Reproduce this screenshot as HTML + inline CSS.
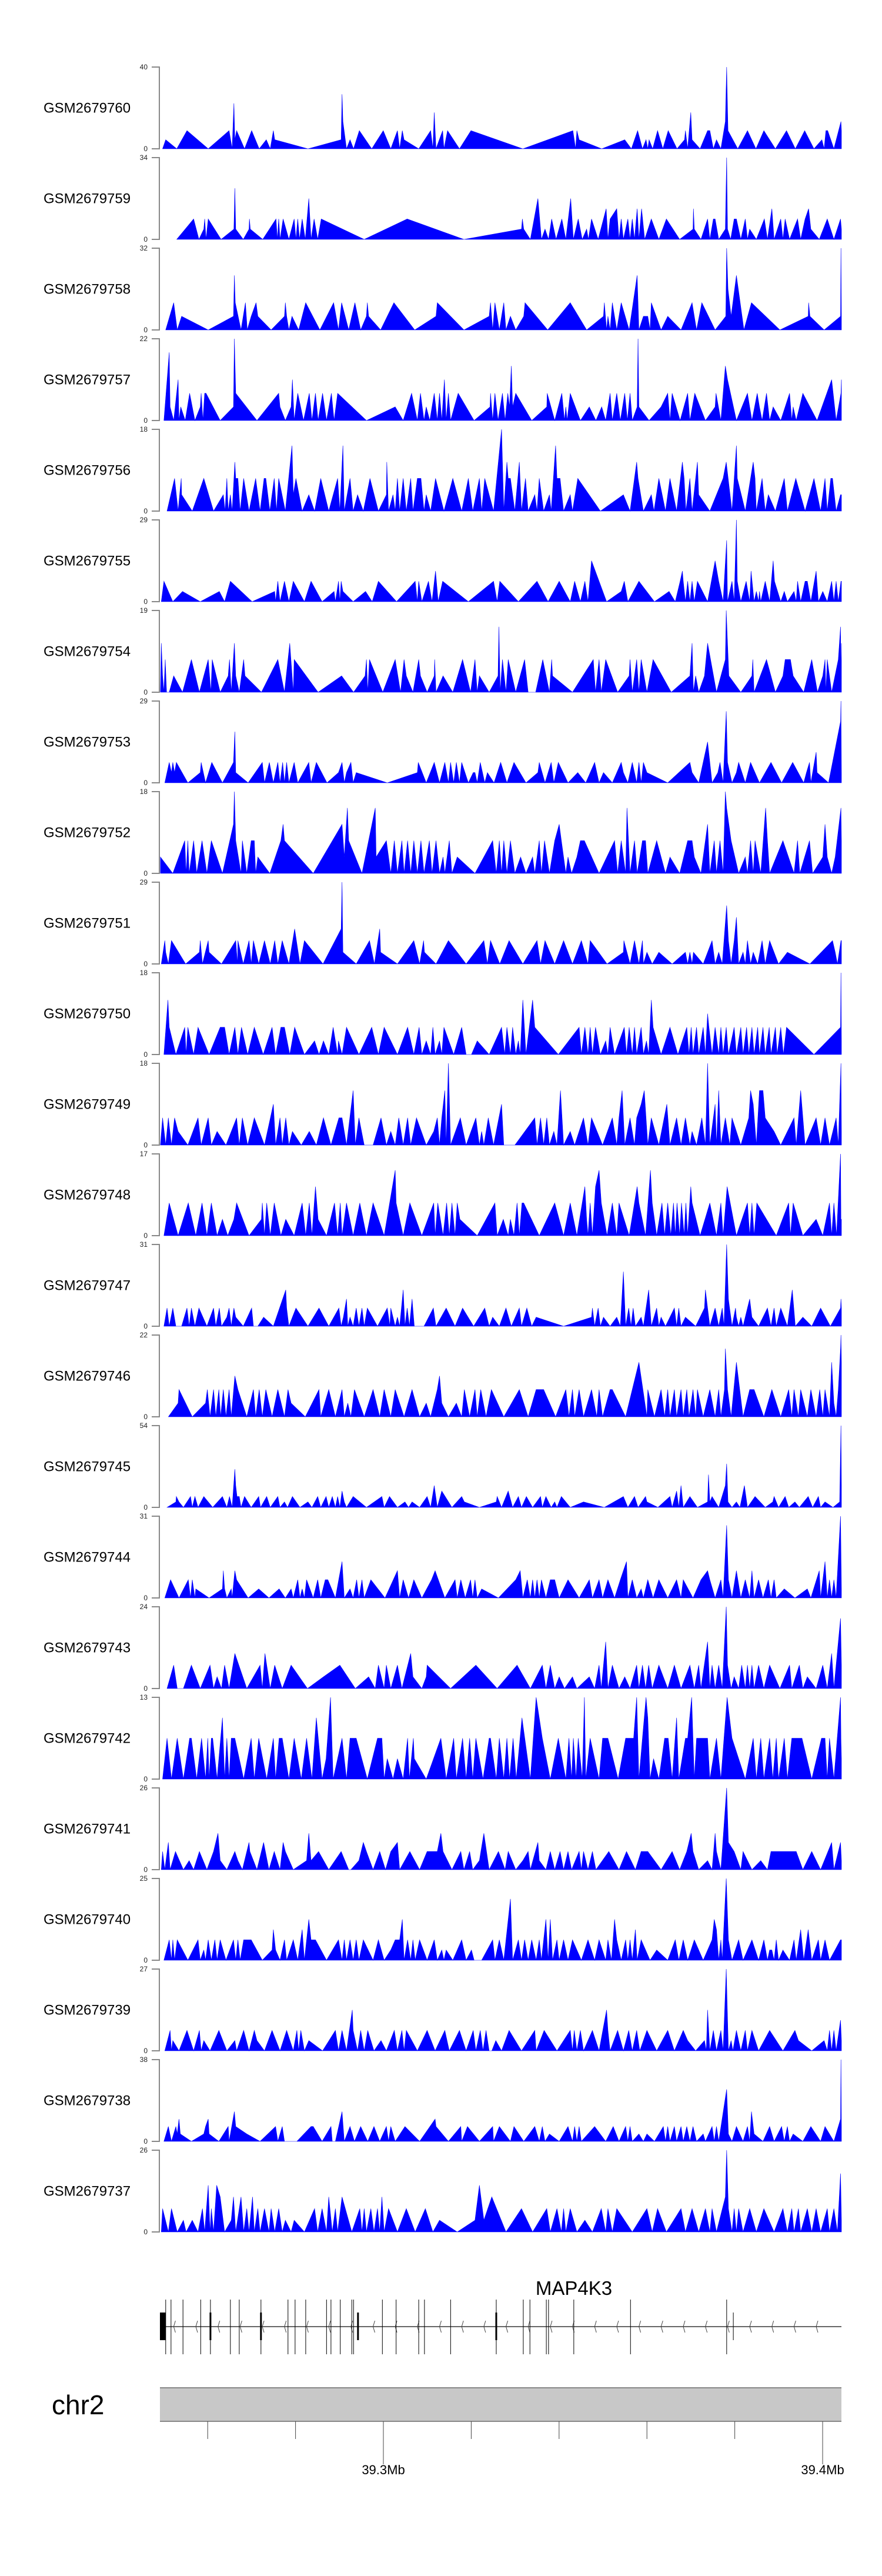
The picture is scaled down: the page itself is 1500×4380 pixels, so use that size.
<!DOCTYPE html>
<html><head><meta charset="utf-8"><title>Coverage tracks - MAP4K3</title>
<style>html,body{margin:0;padding:0;background:#fff}svg{display:block}text{font-family:"Liberation Sans",Arial,sans-serif}</style>
</head><body>
<svg id="chart" xmlns="http://www.w3.org/2000/svg" width="1500" height="4380" viewBox="0 0 1500 4380">
<rect x="0" y="0" width="1500" height="4380" fill="#fff"/>
<g id="tracks"></g>
<g id="gene"></g>
<g id="ideo"></g>
</svg>
<script>
const sampleNames=["GSM2679760","GSM2679759","GSM2679758","GSM2679757","GSM2679756","GSM2679755","GSM2679754","GSM2679753","GSM2679752","GSM2679751","GSM2679750","GSM2679749","GSM2679748","GSM2679747","GSM2679746","GSM2679745","GSM2679744","GSM2679743","GSM2679742","GSM2679741","GSM2679740","GSM2679739","GSM2679738","GSM2679737"];
const yMaxLabels=[40,34,32,22,18,29,19,29,18,29,18,18,17,31,22,54,31,24,13,26,25,27,38,26];
const normFactor=[4.444,4.25,5.333,3.667,3.6,3.625,3.8,3.625,3.6,4.143,3,3,3.4,3.444,3.667,3.6,3.444,3.429,3.25,2.889,3.125,3.375,3.455,3.714];
const regionKb=[0.9,154.7];
const regionMb=[39.24913,39.40428];
const axisTicksMb=[39.26,39.28,39.30,39.32,39.34,39.36,39.38,39.40];
const axisLabelsMb=["39.3Mb","39.4Mb"];
const geneName="MAP4K3";
const exons=[[0.9,"B"],[2.2,"L"],[3.4,"L"],[6.1,"L"],[10.1,"L"],[12.3,"T"],[16.8,"L"],[18.8,"L"],[23.7,"T"],[29.8,"L"],[31.4,"L"],[33.8,"L"],[38.5,"L"],[39.5,"L"],[41.6,"L"],[44.2,"L"],[44.6,"L"],[45.4,"B"],[51.1,"L"],[54.2,"L"],[59.3,"L"],[60.6,"L"],[66.5,"L"],[76.8,"T"],[82.9,"L"],[84.4,"L"],[88.1,"L"],[88.6,"L"],[94.3,"L"],[107.1,"L"],[128.8,"L"],[130.3,"S"]];

const cov760=[[1.5,0],[2.2,1],[4.7,0],[7.0,2],[11.8,0],[16.5,2],[17.2,0],[17.6,5],[17.8,1],[18.2,2],[20.0,0],[21.6,2],[23.3,0],[24.9,1],[25.8,0],[26.5,2],[26.8,1],[34.3,0],[41.8,1],[42.0,6],[42.2,3],[43.0,0],[43.8,1],[44.6,0],[45.9,2],[48.7,0],[51.3,2],[53.0,0],[54.5,2],[55.0,0],[55.6,2],[56.0,1],[59.3,0],[62.0,2],[62.5,0],[62.8,4],[63.2,0],[64.7,2],[65.0,0],[65.8,2],[68.5,0],[71.1,2],[82.8,0],[94.1,2],[94.7,0],[95.0,2],[95.5,1],[100.6,0],[105.8,1],[107.3,0],[108.7,2],[109.8,0],[110.6,1],[111.0,0],[111.3,1],[112.1,0],[113.2,2],[114.4,0],[115.6,2],[117.6,0],[119.3,1],[119.5,2],[120.0,0],[120.7,4],[121.0,1],[122.8,0],[124.5,2],[125.0,2],[125.8,0],[126.5,1],[127.5,0],[128.5,3],[128.8,9],[129.1,2],[131.3,0],[133.5,2],[135.4,0],[137.2,2],[139.8,0],[142.3,2],[144.3,0],[146.4,2],[148.5,0],[150.3,1],[150.8,0],[151.2,2],[151.6,2],[153.0,0],[154.6,3],[154.7,2]];
const cov759=[[4.7,0],[8.5,2],[9.7,0],[10.8,1],[11.0,2],[11.3,0],[11.8,2],[14.7,0],[17.6,1],[17.8,5],[18.0,1],[19.7,0],[21.0,1],[21.1,2],[21.3,1],[24.1,0],[27.1,2],[27.4,0],[27.7,2],[28.0,0],[28.7,2],[30.0,0],[31.2,2],[31.6,0],[32.0,2],[32.4,0],[33.0,2],[33.7,0],[34.5,4],[35.0,0],[35.7,2],[36.5,0],[37.3,2],[47.0,0],[56.7,2],[69.5,0],[82.5,1],[82.7,2],[83.0,1],[84.5,0],[86.2,4],[86.6,2],[87.0,0],[87.8,1],[88.6,0],[89.3,2],[90.3,0],[91.6,2],[92.5,0],[93.6,4],[94.2,0],[95.3,2],[96.2,0],[97.2,1],[97.6,0],[98.3,2],[99.8,0],[101.6,3],[102.0,0],[102.5,2],[104.0,3],[104.5,0],[105.0,2],[105.5,0],[106.5,2],[107.0,0],[107.5,2],[108.0,0],[108.6,3],[109.0,0],[109.6,3],[110.3,0],[111.8,2],[113.5,0],[115.2,2],[118.2,0],[121.2,1],[121.3,3],[121.5,1],[123.0,0],[124.5,2],[125.0,0],[125.8,2],[126.2,2],[127.0,0],[128.5,1],[128.8,8],[129.0,1],[129.7,0],[130.5,2],[131.0,2],[132.0,0],[133.0,2],[133.5,0],[134.0,1],[135.5,0],[137.3,2],[138.0,0],[139.0,3],[139.5,0],[141.0,2],[141.5,0],[142.0,2],[143.0,0],[144.8,2],[145.5,0],[146.5,2],[147.3,3],[147.8,1],[149.7,0],[151.5,2],[153.0,0],[154.5,2],[154.7,1]];
const cov758=[[2.2,0],[4.0,2],[4.8,0],[5.8,1],[11.8,0],[17.5,1],[17.7,4],[17.9,2],[19.2,0],[20.2,2],[20.6,0],[21.5,1],[22.6,2],[23.0,1],[26.0,0],[29.0,1],[29.2,2],[29.5,1],[30.0,0],[30.7,1],[32.2,0],[33.8,2],[37.0,0],[40.1,2],[41.2,0],[41.9,2],[43.5,0],[44.9,2],[46.2,0],[47.5,1],[47.7,2],[48.0,1],[50.7,0],[53.7,2],[58.4,0],[63.2,1],[63.5,2],[69.5,0],[75.2,1],[75.5,2],[76.0,0],[76.5,2],[77.5,0],[78.5,2],[79.0,0],[80.0,1],[81.2,0],[83.0,1],[83.3,2],[88.4,0],[93.5,2],[97.2,0],[101.0,1],[101.2,2],[101.7,0],[102.0,1],[102.5,0],[103.0,2],[104.0,0],[105.0,2],[106.8,0],[108.6,4],[109.0,0],[110.0,1],[111.0,1],[111.5,0],[111.8,2],[114.0,0],[115.5,1],[118.5,0],[121.0,2],[122.0,0],[123.2,2],[126.2,0],[128.6,1],[128.8,6],[129.1,3],[129.8,1],[131.0,4],[132.7,0],[134.4,2],[140.8,0],[147.2,1],[147.3,2],[147.6,1],[150.8,0],[154.5,1],[154.6,6],[154.7,1]];
const cov757=[[1.8,0],[3.0,5],[3.2,1],[4.0,0],[5.0,3],[5.2,0],[5.6,1],[6.6,0],[7.6,2],[8.8,0],[10.0,1],[10.2,2],[10.6,0],[11.0,2],[11.3,2],[14.5,0],[17.5,1],[17.7,6],[18.0,2],[22.8,0],[27.7,2],[28.0,1],[29.2,0],[30.5,1],[30.8,3],[31.2,0],[32.0,2],[33.3,0],[34.6,2],[35.2,0],[36.0,2],[36.6,0],[37.6,2],[38.5,0],[39.6,2],[40.2,0],[41.0,2],[47.5,0],[54.0,1],[55.8,0],[57.7,2],[59.0,0],[59.7,2],[60.5,0],[61.0,1],[61.8,0],[62.8,2],[63.5,0],[64.0,2],[64.5,0],[65.1,3],[65.5,0],[66.0,2],[66.5,0],[68.2,2],[71.8,0],[75.4,1],[75.5,2],[76.0,0],[76.5,2],[77.2,0],[78.2,2],[78.8,0],[79.4,2],[79.8,1],[80.2,4],[80.5,1],[81.2,2],[84.8,0],[88.2,1],[88.3,2],[90.0,0],[91.6,2],[92.2,0],[92.5,1],[92.8,0],[93.5,2],[95.8,0],[97.8,1],[99.3,0],[100.6,1],[101.5,0],[102.5,2],[103.0,0],[104.0,2],[104.8,0],[105.8,2],[106.4,0],[107.0,2],[107.5,0],[108.6,1],[108.8,6],[109.0,1],[111.3,0],[114.0,1],[115.5,2],[116.0,0],[116.5,2],[118.3,0],[120.0,2],[120.5,0],[121.6,2],[124.0,0],[126.2,1],[126.4,2],[127.5,0],[128.5,4],[129.0,3],[131.0,0],[133.5,2],[134.5,0],[135.7,2],[136.2,1],[136.8,0],[137.8,2],[138.5,0],[139.3,1],[141.0,0],[143.0,2],[143.5,0],[143.8,1],[144.5,0],[146.0,2],[149.2,0],[152.5,3],[153.5,0],[154.6,2],[154.7,3]];
const cov756=[[2.5,0],[4.2,2],[5.0,0],[5.7,2],[5.8,1],[8.2,0],[10.8,2],[13.0,0],[15.2,1],[15.6,0],[16.0,2],[16.3,0],[16.8,1],[17.2,0],[17.8,3],[18.0,2],[18.5,2],[19.0,0],[19.8,2],[21.0,0],[22.5,2],[23.5,0],[24.4,2],[24.8,2],[25.7,0],[26.7,2],[27.2,0],[27.7,2],[29.2,0],[30.7,4],[31.0,1],[31.6,2],[33.0,0],[34.5,1],[35.8,0],[37.2,2],[39.0,0],[41.0,2],[41.5,0],[42.2,4],[42.5,0],[43.8,2],[44.5,0],[45.5,1],[46.8,0],[48.3,2],[50.2,0],[52.0,1],[52.1,3],[52.5,0],[53.5,1],[54.0,0],[54.5,2],[55.0,0],[55.8,2],[56.5,0],[57.5,2],[58.0,0],[59.0,2],[59.8,2],[60.5,0],[61.0,1],[62.0,0],[63.1,2],[65.0,0],[67.0,2],[69.0,0],[70.5,2],[71.5,0],[73.0,2],[73.5,0],[74.2,2],[76.2,0],[78.0,5],[78.5,0],[79.2,3],[79.5,2],[80.0,2],[81.0,0],[82.0,3],[82.5,0],[83.4,2],[84.0,0],[85.5,1],[86.0,0],[86.5,2],[87.5,0],[88.8,1],[89.2,0],[90.2,4],[90.5,2],[91.2,2],[92.0,0],[93.5,1],[94.0,0],[95.2,2],[100.3,0],[105.5,1],[107.0,0],[108.5,3],[108.8,2],[110.0,0],[111.8,1],[112.4,0],[113.5,2],[115.0,0],[116.0,2],[117.5,0],[118.8,3],[119.2,2],[119.6,0],[120.5,2],[121.0,0],[122.2,3],[122.5,1],[125.0,0],[128.0,2],[128.7,3],[130.0,0],[131.0,4],[131.2,2],[133.0,0],[134.8,3],[135.2,2],[135.5,0],[136.8,2],[137.5,0],[138.2,1],[139.8,0],[141.8,2],[142.5,0],[144.4,2],[146.5,0],[148.5,2],[150.0,0],[151.0,2],[151.5,0],[152.3,2],[152.7,2],[153.5,0],[154.5,1],[154.7,1]];
const cov755=[[1.2,0],[1.8,2],[3.8,0],[6.0,1],[10.0,0],[14.3,1],[15.5,0],[16.8,2],[21.7,0],[26.8,1],[27.0,0],[27.5,2],[28.0,0],[29.0,2],[30.0,0],[31.0,2],[33.5,0],[35.0,2],[37.5,0],[40.2,1],[40.5,0],[41.2,2],[41.5,0],[41.8,2],[42.2,1],[44.5,0],[47.3,1],[48.8,0],[50.2,2],[54.3,0],[58.5,2],[59.0,0],[59.3,2],[60.0,0],[61.5,2],[62.3,0],[63.1,3],[63.7,0],[64.7,2],[70.5,0],[76.2,2],[77.0,0],[77.6,2],[81.8,0],[86.0,2],[88.5,0],[91.0,2],[93.5,0],[94.5,2],[95.8,0],[96.8,2],[97.5,0],[98.3,4],[101.7,0],[105.0,1],[105.7,2],[106.5,0],[109.0,2],[112.5,0],[115.8,1],[117.2,0],[118.3,2],[118.8,3],[119.0,2],[119.5,0],[120.0,2],[120.5,0],[121.0,2],[121.5,0],[122.2,2],[124.5,0],[126.2,4],[127.0,2],[128.0,0],[128.8,6],[129.0,0],[130.0,2],[130.5,0],[131.0,8],[131.2,2],[132.0,0],[133.2,2],[134.0,0],[134.3,3],[135.0,0],[135.5,1],[136.0,0],[136.2,1],[136.5,0],[137.5,2],[138.5,0],[139.3,4],[139.6,2],[141.0,0],[141.8,1],[142.5,0],[144.0,1],[144.5,0],[144.8,2],[145.5,0],[146.5,2],[147.0,2],[147.8,0],[149.0,3],[149.5,0],[150.5,1],[151.5,0],[152.5,2],[153.0,0],[153.5,2],[154.0,0],[154.6,2],[154.7,2]];
const cov754=[[1.0,0],[1.2,3],[1.5,1],[1.8,0],[2.1,2],[2.4,0],[3.0,0],[4.0,1],[6.0,0],[8.0,2],[9.8,0],[11.8,2],[12.4,0],[12.7,2],[14.5,0],[16.3,1],[16.6,2],[17.0,0],[17.7,3],[18.0,1],[18.8,0],[19.8,2],[20.1,1],[23.8,0],[27.5,2],[29.0,0],[30.2,3],[31.0,0],[31.2,2],[36.6,0],[41.9,1],[44.6,0],[47.2,1],[47.5,2],[47.8,0],[48.2,2],[51.2,0],[54.0,2],[55.2,0],[56.0,2],[56.5,1],[58.0,0],[59.3,2],[59.7,1],[61.2,0],[62.8,1],[62.9,2],[63.2,0],[64.8,1],[67.0,0],[69.2,2],[71.0,0],[72.0,2],[72.5,0],[73.0,1],[75.2,0],[77.2,1],[77.4,4],[77.7,0],[78.2,2],[79.0,0],[79.5,2],[81.2,0],[83.2,2],[84.0,0],[85.7,0],[87.3,2],[88.8,0],[89.3,2],[89.5,1],[94.0,0],[98.7,2],[99.2,0],[100.0,2],[100.5,0],[101.5,2],[104.2,0],[106.8,1],[107.0,2],[107.5,0],[108.5,2],[109.0,0],[109.5,2],[110.8,0],[112.2,2],[116.3,0],[120.5,1],[121.0,3],[121.3,0],[121.8,1],[122.5,0],[123.8,1],[124.5,3],[126.5,0],[128.5,2],[128.7,5],[129.0,3],[129.3,1],[132.0,0],[134.5,1],[134.7,2],[135.0,0],[137.8,2],[139.8,0],[141.5,1],[142.0,2],[142.5,2],[143.2,2],[143.8,1],[146.2,0],[148.0,2],[149.3,0],[150.5,1],[151.0,2],[151.2,0],[151.5,2],[152.5,0],[154.0,2],[154.5,4],[154.6,1],[154.7,3]];
const cov753=[[2.0,0],[3.0,2],[3.5,1],[3.8,2],[4.2,1],[4.6,2],[7.2,0],[10.0,1],[10.2,2],[11.2,0],[12.6,2],[15.0,0],[17.5,2],[17.8,5],[18.0,1],[20.8,0],[24.0,2],[24.5,0],[25.6,2],[26.5,0],[27.5,2],[28.0,0],[28.6,2],[29.0,0],[29.5,2],[30.0,0],[31.2,2],[32.0,0],[34.5,2],[35.0,0],[36.2,2],[38.6,0],[41.2,1],[42.0,2],[42.5,0],[43.0,1],[44.0,2],[44.5,0],[45.2,1],[52.2,0],[59.0,1],[59.2,2],[61.0,0],[62.8,2],[64.0,0],[65.2,2],[66.0,0],[66.5,2],[67.2,0],[67.8,2],[68.5,0],[69.0,2],[70.5,0],[71.6,1],[72.0,1],[72.5,0],[73.2,2],[73.7,1],[74.2,0],[74.8,1],[76.3,0],[77.8,2],[79.2,0],[80.8,2],[83.5,0],[86.2,1],[86.5,2],[87.8,0],[89.2,2],[89.8,0],[90.8,2],[93.0,0],[95.2,1],[97.0,0],[99.0,2],[100.0,0],[101.0,1],[103.0,0],[105.0,2],[105.5,1],[106.5,0],[107.5,2],[108.0,1],[108.5,0],[109.0,2],[109.5,0],[110.0,2],[110.8,1],[115.5,0],[120.5,2],[121.0,1],[122.5,0],[124.5,4],[125.5,0],[126.8,1],[127.3,2],[128.0,0],[128.7,7],[129.0,2],[130.0,0],[131.0,1],[131.5,2],[133.0,0],[134.2,2],[136.2,0],[138.8,2],[141.2,0],[143.7,2],[146.2,0],[146.8,1],[147.5,2],[147.8,0],[149.0,3],[149.2,1],[151.8,0],[154.5,6],[154.6,8],[154.7,1]];
const cov752=[[1.0,1],[3.8,0],[6.5,2],[6.8,0],[7.2,2],[7.5,0],[8.5,2],[9.2,0],[10.4,2],[11.5,0],[12.5,2],[15.0,0],[17.5,3],[17.7,5],[18.0,2],[19.2,0],[19.5,2],[20.5,0],[21.5,2],[22.2,2],[22.5,0],[23.0,1],[25.7,0],[28.2,2],[28.7,3],[29.0,2],[35.5,0],[42.0,3],[42.5,1],[43.2,4],[43.5,2],[46.5,0],[49.5,4],[49.7,1],[52.0,2],[53.0,0],[53.8,2],[54.5,0],[55.5,2],[56.0,0],[56.8,2],[57.5,0],[58.2,2],[59.0,0],[59.8,2],[60.5,0],[61.7,2],[62.3,0],[63.2,2],[64.0,0],[64.8,1],[65.2,0],[66.2,2],[66.8,0],[68.0,1],[72.0,0],[76.0,2],[76.8,0],[77.5,2],[78.0,0],[78.5,2],[79.2,0],[80.0,2],[81.0,0],[82.3,1],[83.5,0],[85.0,1],[85.5,0],[86.5,2],[87.0,0],[87.7,2],[88.8,0],[90.0,2],[91.0,3],[91.5,2],[92.5,0],[93.0,1],[93.8,0],[95.0,1],[95.8,2],[96.7,2],[100.0,0],[103.5,2],[104.2,0],[105.0,2],[106.0,0],[106.3,4],[107.0,0],[108.0,2],[108.6,0],[109.8,2],[110.5,2],[111.0,0],[113.0,2],[115.0,0],[116.0,1],[118.2,0],[120.0,2],[121.0,2],[121.5,1],[123.0,0],[124.5,3],[125.0,0],[126.0,2],[126.5,0],[127.3,2],[128.0,0],[128.5,5],[128.8,4],[129.8,2],[131.5,0],[133.0,1],[133.5,0],[134.2,2],[134.8,0],[135.2,2],[136.5,0],[137.6,4],[138.0,2],[138.5,0],[141.5,2],[144.0,0],[144.8,2],[145.3,0],[147.5,2],[148.2,0],[150.5,1],[151.0,3],[151.5,1],[152.5,0],[153.3,1],[154.6,4],[154.7,2]];
const cov751=[[1.2,0],[2.0,2],[2.2,1],[2.8,0],[3.5,2],[6.7,0],[9.8,1],[10.0,2],[10.5,0],[11.8,2],[12.0,1],[14.8,0],[18.0,2],[18.4,0],[18.5,2],[19.7,0],[21.0,2],[21.5,0],[22.0,2],[23.2,0],[24.5,2],[25.8,0],[26.8,2],[27.5,0],[28.5,2],[30.0,0],[31.3,3],[32.5,0],[33.5,2],[37.7,0],[41.8,3],[42.0,7],[42.2,1],[45.2,0],[48.2,2],[49.3,0],[50.5,3],[50.7,1],[54.5,0],[58.2,2],[59.5,0],[60.4,2],[60.6,1],[63.2,0],[66.0,2],[70.0,0],[74.0,2],[74.8,0],[75.5,2],[77.6,0],[79.7,2],[82.8,0],[86.0,2],[86.8,0],[87.8,2],[90.0,0],[92.0,2],[94.0,0],[96.0,2],[97.5,0],[98.0,2],[101.8,0],[105.5,1],[105.6,2],[107.0,0],[108.0,2],[109.0,0],[109.8,2],[110.0,0],[110.8,1],[112.0,0],[113.5,1],[116.5,0],[119.5,1],[120.0,0],[120.5,1],[121.0,0],[121.3,1],[123.5,0],[125.5,2],[126.2,0],[127.0,1],[127.8,0],[128.8,5],[129.2,2],[129.8,0],[130.5,2],[131.0,4],[131.5,0],[132.5,1],[133.0,0],[133.5,2],[134.2,0],[134.8,1],[135.8,0],[136.8,2],[137.5,0],[138.5,2],[140.5,0],[142.5,1],[147.6,0],[152.7,2],[153.3,1],[153.8,0],[154.6,2],[154.7,2]];
const cov750=[[1.8,0],[2.7,4],[3.0,2],[4.5,0],[6.5,2],[6.8,0],[7.2,2],[8.5,0],[9.5,2],[12.0,0],[14.5,2],[15.5,2],[16.5,0],[17.8,2],[18.5,0],[19.3,2],[20.7,0],[22.2,2],[24.2,0],[26.2,2],[27.0,0],[28.2,2],[29.0,2],[30.2,0],[31.3,2],[33.5,0],[35.8,1],[36.8,0],[37.8,1],[39.0,0],[40.0,2],[41.0,0],[41.2,1],[42.0,0],[43.0,2],[45.8,0],[48.7,2],[50.2,0],[51.5,2],[54.5,0],[56.8,2],[58.2,0],[59.4,2],[60.0,0],[61.0,1],[62.0,0],[62.5,2],[63.0,0],[64.0,1],[64.5,0],[65.0,2],[67.2,0],[69.0,2],[70.0,0],[71.2,0],[72.5,1],[75.2,0],[78.0,2],[78.7,0],[79.2,2],[80.0,0],[80.5,2],[81.2,0],[81.8,1],[82.2,0],[82.8,4],[83.5,0],[85.0,4],[85.5,2],[90.8,0],[95.5,2],[96.0,0],[96.8,2],[97.5,0],[98.0,2],[98.5,0],[99.2,2],[100.3,0],[101.5,1],[102.0,0],[102.5,2],[103.5,0],[105.7,2],[106.2,0],[106.8,2],[107.5,0],[108.0,2],[108.5,0],[109.5,2],[110.0,0],[110.7,1],[111.2,0],[111.8,4],[112.2,2],[114.0,0],[116.0,2],[117.8,0],[119.8,2],[120.3,0],[120.8,2],[121.2,0],[122.0,2],[122.5,0],[123.5,2],[124.0,0],[124.5,3],[124.8,2],[125.5,0],[126.2,2],[127.0,0],[127.5,2],[128.0,0],[128.7,2],[129.2,0],[130.5,2],[131.0,0],[132.0,2],[132.5,0],[133.3,2],[133.8,0],[134.5,2],[135.0,0],[135.8,2],[136.2,0],[137.0,2],[137.5,0],[138.4,2],[138.8,0],[139.8,2],[140.2,0],[141.0,2],[141.6,0],[142.3,2],[148.5,0],[154.5,2],[154.6,6],[154.7,1]];
const cov749=[[1.0,0],[1.5,2],[2.2,0],[2.8,2],[3.5,0],[4.2,2],[5.0,1],[7.2,0],[9.5,2],[10.2,0],[11.8,2],[12.5,0],[13.8,1],[15.8,0],[18.2,2],[18.8,0],[19.5,2],[20.7,0],[22.2,2],[24.5,0],[26.5,3],[27.0,0],[28.0,2],[28.5,0],[29.3,2],[30.0,0],[30.8,1],[32.8,0],[34.6,1],[36.2,0],[37.8,2],[39.5,0],[41.3,2],[42.0,2],[43.0,0],[44.5,4],[45.0,0],[45.8,2],[47.0,0],[49.0,0],[50.8,2],[52.0,0],[53.0,1],[54.0,0],[54.8,2],[55.8,0],[56.8,2],[57.5,0],[58.8,2],[61.0,0],[62.7,1],[63.5,2],[64.0,0],[64.5,2],[65.2,4],[65.5,0],[66.0,6],[66.5,0],[68.7,2],[70.0,0],[72.2,2],[73.0,0],[73.5,1],[74.0,0],[75.0,2],[76.2,0],[78.0,3],[78.5,0],[81.0,0],[85.5,2],[86.0,0],[86.8,2],[87.5,0],[88.2,2],[88.8,0],[89.8,1],[90.5,0],[91.3,4],[92.0,0],[93.5,1],[94.5,0],[96.5,2],[97.5,0],[98.3,2],[100.8,0],[103.0,2],[104.0,0],[104.5,2],[105.2,4],[105.8,0],[107.0,2],[108.0,0],[108.5,2],[109.5,3],[110.2,4],[111.0,0],[111.8,2],[113.5,0],[115.3,3],[116.0,0],[117.5,2],[118.5,0],[119.5,2],[120.5,0],[121.0,1],[122.0,0],[123.2,2],[124.0,0],[124.5,6],[125.0,0],[126.2,3],[126.5,0],[127.0,4],[127.5,0],[128.5,2],[129.5,0],[130.0,2],[132.0,0],[133.8,2],[134.2,4],[134.8,3],[135.5,0],[136.2,4],[137.0,4],[137.5,2],[139.5,1],[141.0,0],[144.0,2],[144.5,0],[145.5,4],[146.5,0],[149.0,2],[150.0,0],[151.0,2],[152.0,0],[153.5,2],[154.0,0],[154.6,6],[154.7,1]];
const cov748=[[1.8,0],[3.0,2],[5.0,0],[7.3,2],[9.0,0],[10.4,2],[11.5,0],[12.5,2],[13.8,0],[15.0,1],[16.2,0],[17.6,1],[18.2,2],[21.0,0],[23.8,1],[24.0,2],[24.5,0],[25.0,2],[25.8,0],[26.7,2],[28.2,0],[29.3,1],[31.2,0],[33.0,2],[33.8,0],[34.6,2],[35.2,0],[36.0,3],[36.6,1],[38.5,0],[40.3,2],[41.0,0],[41.6,2],[42.0,0],[43.0,2],[44.5,0],[46.0,2],[47.5,0],[49.0,2],[51.5,0],[54.0,4],[54.2,2],[55.8,0],[57.3,2],[60.0,0],[62.7,2],[63.0,0],[63.6,2],[64.8,0],[65.6,2],[66.2,0],[66.8,2],[67.5,0],[68.0,2],[68.6,1],[72.5,0],[76.5,2],[77.0,0],[78.4,1],[79.5,0],[80.0,1],[80.8,0],[81.5,2],[82.0,0],[82.6,2],[83.0,2],[86.5,0],[90.0,2],[92.0,0],[93.5,2],[95.0,0],[96.8,3],[97.2,1],[97.5,0],[98.0,2],[98.5,0],[99.2,3],[100.0,4],[100.5,2],[101.8,0],[103.0,2],[104.0,0],[104.5,2],[106.8,0],[108.6,3],[109.0,2],[110.5,0],[111.6,4],[112.0,2],[113.0,0],[114.2,2],[114.8,0],[115.5,2],[116.2,0],[116.8,2],[117.2,0],[117.6,2],[118.2,0],[118.6,2],[119.2,0],[119.6,2],[120.0,0],[120.7,3],[121.0,2],[122.8,0],[125.0,2],[126.5,0],[127.5,2],[128.0,0],[128.9,3],[131.0,0],[133.5,2],[134.0,0],[134.5,2],[135.0,0],[135.6,2],[140.0,0],[142.8,2],[143.2,0],[143.8,2],[146.0,0],[149.0,1],[150.5,0],[152.0,2],[152.5,0],[153.0,2],[153.6,0],[154.5,5],[154.6,1],[154.7,1]];
const cov747=[[1.8,0],[2.5,2],[3.0,0],[3.8,2],[4.5,0],[5.8,0],[7.0,2],[7.5,0],[8.0,2],[8.8,0],[9.7,2],[11.5,0],[13.0,2],[13.5,0],[14.3,2],[14.8,0],[16.0,1],[16.5,2],[17.0,0],[17.6,2],[18.0,1],[19.7,0],[21.6,2],[22.0,0],[23.0,0],[24.3,1],[26.5,0],[29.3,4],[29.5,2],[30.0,0],[31.6,2],[34.3,0],[36.8,2],[39.0,0],[41.3,2],[41.8,0],[42.3,1],[43.0,3],[43.3,0],[43.8,1],[44.5,0],[45.2,2],[45.8,0],[46.5,2],[47.0,0],[47.7,2],[50.0,0],[52.2,2],[52.8,0],[53.0,2],[54.0,0],[54.5,1],[55.0,0],[55.8,4],[56.2,0],[56.7,2],[57.2,0],[57.8,3],[58.3,0],[60.5,0],[62.6,2],[63.2,0],[65.5,2],[67.5,0],[69.2,2],[71.7,0],[74.2,2],[75.2,0],[76.0,1],[77.5,0],[79.0,2],[80.2,0],[82.0,2],[82.5,0],[83.7,2],[84.8,0],[85.8,1],[92.0,0],[98.3,1],[98.5,2],[99.0,0],[99.8,2],[100.3,0],[101.0,1],[102.5,0],[104.0,1],[104.8,0],[105.5,6],[106.0,0],[106.7,2],[107.2,0],[107.7,2],[108.2,0],[109.5,1],[110.0,0],[111.2,4],[111.8,0],[113.0,2],[113.5,0],[114.0,1],[115.0,0],[117.0,2],[117.5,0],[118.0,2],[118.5,0],[119.5,1],[121.8,0],[123.8,2],[124.0,4],[124.5,2],[125.0,0],[126.2,2],[127.0,0],[127.8,2],[128.2,0],[128.8,9],[129.2,3],[130.0,0],[130.8,2],[131.0,1],[131.5,0],[132.0,1],[132.5,0],[133.5,2],[134.0,3],[134.5,1],[136.0,0],[138.0,2],[138.8,0],[139.5,2],[140.0,0],[141.0,2],[142.5,0],[143.6,4],[144.3,0],[146.0,1],[148.0,0],[150.0,2],[152.2,0],[154.5,2],[154.6,3],[154.7,2]];
const cov746=[[2.8,0],[5.0,1],[5.2,2],[8.2,0],[11.2,1],[11.6,2],[12.2,0],[13.0,2],[13.5,0],[14.2,2],[14.6,0],[15.2,2],[15.8,0],[16.5,2],[17.0,0],[17.8,3],[18.5,2],[20.5,0],[22.0,2],[22.5,0],[23.3,2],[24.0,0],[24.8,2],[26.2,0],[27.5,2],[29.0,0],[29.8,2],[30.5,1],[33.7,0],[36.8,2],[37.2,0],[39.0,2],[40.5,0],[42.0,2],[42.5,0],[43.3,1],[44.0,0],[44.8,2],[47.0,0],[49.0,2],[50.5,0],[51.5,2],[53.0,0],[54.0,2],[56.0,0],[57.8,2],[59.5,0],[61.0,1],[62.0,0],[63.5,2],[64.0,3],[64.5,1],[66.0,0],[67.8,1],[69.0,0],[69.6,2],[70.8,0],[72.0,2],[72.5,0],[73.3,2],[74.5,0],[75.7,2],[78.5,0],[82.0,2],[84.0,0],[85.8,2],[87.5,2],[90.2,0],[92.5,2],[93.2,0],[94.0,2],[94.5,0],[95.5,2],[96.5,0],[98.3,2],[99.5,0],[100.0,2],[100.8,0],[102.5,2],[103.0,2],[106.0,0],[109.0,4],[110.8,0],[111.0,2],[112.5,0],[114.0,2],[114.8,0],[115.5,2],[116.0,0],[117.0,2],[117.5,0],[118.5,2],[119.0,0],[119.8,2],[120.3,0],[121.2,2],[121.8,0],[122.2,2],[123.5,0],[125.0,2],[126.2,0],[127.0,2],[127.5,0],[128.3,2],[128.5,5],[129.0,2],[129.8,0],[131.0,4],[132.5,0],[134.0,2],[135.0,2],[137.2,0],[139.0,2],[141.0,0],[142.8,2],[143.5,0],[144.0,2],[145.0,0],[145.5,2],[147.0,0],[147.8,2],[149.0,0],[149.8,2],[150.5,0],[151.0,2],[152.0,0],[152.5,4],[153.0,1],[153.5,0],[154.0,2],[154.5,5],[154.6,6],[154.7,4]];
const cov745=[[2.5,0],[4.5,1],[4.6,2],[5.2,1],[6.2,0],[7.8,2],[8.2,0],[8.8,2],[9.5,0],[10.8,2],[12.8,0],[15.0,2],[16.0,0],[16.6,2],[17.2,0],[17.8,7],[18.0,4],[18.3,2],[18.8,2],[19.2,0],[20.0,2],[21.5,0],[23.2,2],[23.6,0],[25.0,2],[25.8,0],[27.5,2],[28.0,0],[29.0,1],[29.7,0],[30.8,2],[32.5,0],[34.3,1],[35.2,0],[36.5,2],[37.2,0],[38.4,2],[39.0,0],[39.8,2],[40.5,0],[41.0,2],[41.5,0],[42.0,3],[42.5,1],[43.0,0],[44.5,2],[47.5,0],[51.0,2],[51.5,0],[52.7,2],[54.5,0],[56.2,1],[57.0,0],[57.8,1],[59.5,0],[61.2,2],[62.0,0],[62.8,4],[63.5,0],[64.5,3],[66.8,0],[69.0,2],[69.6,1],[73.0,0],[76.8,1],[77.0,2],[78.0,0],[79.5,3],[80.5,0],[81.8,2],[82.5,0],[83.6,2],[85.0,0],[86.8,2],[87.2,0],[88.0,2],[89.2,0],[90.0,1],[90.5,0],[91.5,2],[93.5,0],[96.5,1],[101.2,0],[105.5,2],[106.5,0],[108.0,2],[108.8,0],[110.5,2],[110.8,1],[113.3,0],[116.0,2],[116.5,0],[117.5,3],[118.0,0],[118.5,4],[119.0,0],[120.5,2],[122.2,0],[124.5,1],[124.7,6],[125.0,1],[125.5,2],[127.0,0],[128.5,4],[128.8,8],[129.1,1],[130.0,0],[131.0,1],[131.8,0],[132.8,4],[133.5,0],[135.2,2],[137.5,0],[139.2,1],[139.5,2],[140.5,0],[142.0,2],[142.8,0],[144.2,1],[145.2,0],[147.2,2],[148.2,0],[149.5,2],[150.0,0],[151.0,1],[152.8,0],[154.3,1],[154.6,15],[154.7,4]];
const cov744=[[2.0,0],[3.3,2],[5.2,0],[7.3,2],[7.8,0],[8.2,2],[8.8,0],[9.0,1],[12.0,0],[15.0,1],[15.2,3],[15.5,1],[16.0,0],[17.0,1],[17.2,0],[17.8,3],[18.2,2],[20.8,0],[23.2,1],[25.5,0],[27.8,1],[29.2,0],[30.5,1],[31.0,0],[32.0,2],[32.5,0],[33.0,1],[33.5,0],[34.0,2],[35.5,0],[36.5,2],[37.2,0],[38.2,2],[38.8,2],[40.5,0],[42.0,4],[42.5,0],[43.8,1],[44.5,0],[45.3,2],[45.8,0],[46.5,2],[47.0,0],[48.5,2],[51.7,0],[54.5,3],[55.0,0],[55.8,2],[57.0,0],[58.2,2],[60.0,0],[62.2,2],[63.0,3],[65.2,0],[67.5,2],[68.0,0],[68.8,2],[69.8,0],[71.0,2],[71.5,0],[72.0,2],[72.5,0],[73.5,1],[77.3,0],[81.2,2],[82.2,3],[82.8,0],[83.8,2],[84.5,0],[85.0,2],[85.5,0],[86.0,2],[86.5,0],[87.0,2],[88.0,0],[89.0,2],[90.0,2],[91.0,0],[93.0,2],[95.5,0],[97.8,2],[98.5,0],[100.0,2],[100.8,0],[102.0,2],[103.5,0],[104.8,2],[105.5,3],[106.2,4],[106.5,0],[107.5,2],[108.5,0],[109.5,1],[110.0,0],[111.0,2],[112.2,0],[113.5,2],[115.5,0],[117.5,2],[118.5,0],[119.0,2],[121.2,0],[123.0,2],[124.5,3],[125.0,2],[126.2,0],[127.5,2],[128.0,0],[128.8,8],[129.2,2],[130.0,0],[131.0,3],[132.0,0],[133.0,2],[134.0,0],[134.5,3],[135.0,0],[136.0,2],[137.0,0],[138.2,2],[138.8,0],[139.5,2],[140.0,0],[141.8,1],[144.2,0],[147.0,1],[147.8,0],[149.7,3],[150.0,0],[151.0,4],[151.5,0],[152.0,2],[152.5,0],[153.0,2],[153.5,0],[154.5,9],[154.7,1]];
const cov743=[[2.5,0],[4.0,2],[4.8,0],[6.2,0],[8.0,2],[10.0,0],[12.2,2],[13.0,0],[13.8,1],[14.8,0],[15.5,2],[16.5,0],[17.8,3],[20.5,0],[23.5,2],[24.0,0],[24.6,3],[25.8,0],[26.8,2],[28.5,0],[30.5,2],[34.2,0],[37.8,1],[41.5,2],[45.0,0],[48.0,1],[49.5,0],[50.2,2],[51.5,0],[52.0,2],[53.0,0],[54.5,2],[55.5,0],[57.5,3],[58.0,1],[60.0,0],[61.0,1],[61.2,2],[66.5,0],[72.2,2],[77.0,0],[81.5,2],[84.5,0],[87.2,2],[88.0,0],[89.0,2],[90.0,0],[91.0,1],[92.2,0],[94.0,1],[95.0,0],[97.8,1],[99.0,0],[100.0,2],[100.5,0],[101.5,4],[102.0,0],[103.0,2],[104.5,0],[105.8,1],[107.0,0],[108.5,2],[109.0,0],[109.8,2],[110.5,0],[111.2,2],[112.0,0],[113.5,2],[115.5,0],[117.0,2],[118.5,0],[120.5,2],[121.5,0],[122.5,2],[123.0,0],[124.5,4],[125.0,0],[125.5,2],[126.2,0],[127.0,2],[127.8,0],[128.7,7],[129.0,2],[129.8,0],[130.5,1],[131.5,0],[132.2,2],[133.0,0],[133.5,2],[134.0,0],[134.5,2],[135.0,0],[136.0,2],[137.2,0],[138.5,2],[140.8,0],[143.0,2],[143.5,0],[145.2,2],[146.0,0],[147.0,1],[149.0,0],[150.5,2],[151.5,0],[152.5,3],[153.0,0],[154.5,6],[154.7,2]];
const cov742=[[1.5,0],[2.5,2],[3.5,0],[4.8,2],[6.2,0],[7.6,2],[8.0,2],[9.2,0],[10.3,2],[11.2,0],[11.7,2],[12.0,0],[12.5,2],[12.8,2],[13.8,0],[15.0,3],[15.5,0],[16.0,2],[16.5,0],[17.0,2],[17.8,2],[19.8,0],[21.5,2],[22.2,0],[23.2,2],[25.0,0],[26.5,2],[27.0,0],[27.8,2],[28.5,2],[30.0,0],[31.2,2],[32.8,0],[34.0,2],[35.2,0],[36.2,3],[37.5,0],[38.4,1],[39.4,4],[40.0,0],[41.0,1],[42.0,2],[43.0,0],[43.8,2],[44.2,2],[45.2,2],[47.7,0],[50.0,2],[51.0,2],[51.5,0],[52.2,1],[53.5,0],[54.5,1],[55.8,0],[56.8,2],[57.2,0],[58.1,2],[58.3,1],[61.0,0],[64.3,2],[65.5,0],[67.2,2],[67.8,0],[69.2,2],[70.0,0],[70.8,2],[71.5,0],[72.2,2],[73.8,0],[75.2,2],[75.5,2],[76.8,0],[77.5,2],[78.5,0],[79.2,2],[79.8,0],[80.6,2],[81.3,0],[82.6,3],[84.5,0],[85.8,4],[87.2,2],[89.0,0],[90.8,2],[92.5,0],[93.2,2],[93.8,0],[94.2,2],[94.8,0],[95.3,2],[96.2,0],[96.7,4],[97.0,0],[98.0,2],[100.0,0],[100.8,2],[102.0,2],[104.3,0],[106.0,2],[106.6,2],[107.2,2],[107.8,2],[108.5,4],[109.0,0],[109.8,2],[110.6,4],[111.0,3],[111.5,0],[112.3,1],[113.5,0],[114.8,2],[115.6,2],[116.5,0],[117.5,3],[118.0,0],[119.5,2],[120.0,2],[120.9,4],[121.5,0],[122.0,2],[124.5,2],[125.0,0],[126.5,2],[127.5,0],[128.2,2],[128.9,4],[130.0,2],[133.0,0],[134.8,2],[135.5,0],[136.5,2],[137.2,0],[138.5,2],[139.2,0],[140.0,2],[140.5,0],[141.8,2],[142.5,0],[143.5,2],[144.0,2],[144.5,2],[145.8,2],[148.0,0],[150.2,2],[151.0,2],[151.5,0],[152.0,2],[153.0,0],[154.5,4],[154.6,2],[154.7,1]];
const cov741=[[1.2,0],[1.5,2],[2.0,0],[2.8,3],[3.2,0],[3.8,1],[4.4,2],[6.2,0],[7.5,1],[8.5,0],[9.8,2],[11.5,0],[13.0,2],[14.0,4],[14.5,1],[16.0,0],[17.8,2],[18.5,1],[19.5,0],[21.0,3],[21.2,2],[22.8,0],[24.3,3],[25.5,0],[26.7,2],[28.0,0],[28.7,3],[29.2,2],[31.0,0],[34.0,1],[34.5,4],[35.0,1],[36.7,2],[39.0,0],[41.8,2],[43.5,0],[44.0,0],[45.8,1],[46.8,3],[47.5,2],[49.0,0],[50.5,2],[51.8,0],[53.0,2],[54.5,3],[55.0,0],[57.3,2],[59.5,0],[61.2,2],[62.2,2],[63.5,2],[64.3,4],[64.8,2],[66.8,0],[68.8,2],[69.5,0],[70.8,2],[71.5,0],[73.0,1],[74.0,4],[75.2,0],[77.3,2],[78.8,0],[79.5,2],[81.2,0],[82.8,1],[84.0,2],[84.5,0],[86.2,3],[86.5,1],[88.0,0],[89.0,2],[90.0,0],[91.2,2],[92.0,0],[93.0,2],[93.8,0],[95.5,2],[96.0,0],[96.5,2],[97.5,0],[98.5,2],[99.3,0],[102.2,2],[104.5,0],[106.2,2],[108.2,0],[109.5,2],[111.0,2],[114.0,0],[116.5,2],[118.2,0],[119.8,2],[120.8,4],[121.2,2],[122.5,0],[124.5,1],[125.5,0],[126.2,4],[126.5,2],[127.5,0],[128.8,9],[129.2,3],[130.5,2],[132.0,0],[132.5,2],[134.5,0],[136.5,1],[138.0,0],[138.8,2],[139.5,2],[140.5,2],[141.2,2],[142.0,2],[143.2,2],[144.5,2],[146.0,0],[148.0,2],[150.0,0],[152.5,3],[153.0,0],[154.5,3],[154.7,1]];
const cov740=[[1.8,0],[3.0,2],[3.5,0],[3.8,2],[4.2,0],[4.8,2],[7.2,0],[9.5,2],[10.0,0],[10.8,1],[11.2,0],[11.8,2],[12.5,0],[13.3,2],[13.8,0],[14.5,2],[15.8,0],[17.5,2],[18.0,0],[18.5,2],[19.0,0],[19.8,2],[21.5,2],[24.0,0],[26.2,1],[26.5,3],[27.0,1],[28.0,0],[29.0,2],[29.5,0],[31.0,2],[32.0,0],[33.0,3],[33.5,0],[34.5,4],[35.0,2],[36.0,2],[38.5,0],[41.2,2],[42.0,0],[42.5,2],[43.0,0],[43.8,2],[44.5,0],[45.2,2],[45.8,0],[46.8,2],[49.0,0],[50.2,2],[51.5,0],[53.0,1],[54.0,2],[54.5,2],[55.0,2],[55.6,4],[56.0,0],[56.8,2],[57.5,0],[58.0,2],[58.5,0],[59.5,2],[61.2,0],[62.8,2],[63.5,0],[64.5,1],[65.0,0],[65.5,1],[67.0,0],[69.0,2],[70.0,0],[71.2,1],[71.8,0],[73.5,0],[76.0,2],[76.5,0],[77.5,2],[78.5,0],[80.0,6],[80.5,0],[81.8,2],[82.5,0],[83.2,2],[84.0,0],[84.8,2],[85.8,0],[86.5,2],[87.0,0],[88.0,4],[88.5,0],[89.0,4],[89.5,0],[90.5,2],[91.0,0],[92.0,2],[93.0,0],[94.0,2],[96.0,0],[97.5,2],[99.0,0],[100.0,2],[101.5,0],[102.0,2],[102.8,0],[103.5,4],[104.0,2],[105.0,0],[106.0,2],[106.5,0],[107.0,2],[107.5,0],[108.2,3],[108.6,0],[109.5,2],[111.5,0],[113.0,1],[115.5,0],[117.2,2],[118.0,0],[119.0,2],[120.0,0],[121.5,2],[123.5,0],[125.5,2],[126.0,4],[126.5,3],[127.0,0],[127.5,2],[127.8,0],[128.7,8],[129.2,2],[130.0,0],[131.5,2],[132.5,0],[134.5,2],[136.0,0],[137.2,2],[138.0,0],[138.5,1],[139.0,1],[139.5,0],[140.0,2],[140.5,0],[141.5,1],[143.0,0],[144.0,2],[144.5,0],[145.5,3],[146.2,0],[147.2,3],[148.0,0],[149.5,2],[150.0,0],[151.0,2],[152.0,0],[154.5,2],[154.7,2]];
const cov739=[[2.0,0],[3.2,2],[3.5,0],[3.8,1],[5.2,0],[7.0,2],[8.5,0],[9.8,2],[10.2,0],[10.8,1],[12.2,0],[14.2,2],[16.0,0],[17.8,1],[18.2,0],[19.8,2],[21.0,0],[22.2,2],[22.8,1],[24.5,0],[26.2,2],[28.0,0],[29.5,2],[31.0,0],[31.8,2],[32.2,0],[32.7,2],[33.5,0],[34.5,1],[37.6,0],[40.5,2],[41.2,0],[42.0,2],[43.0,0],[44.3,4],[44.5,2],[45.5,0],[46.2,2],[47.0,0],[47.8,2],[49.2,0],[50.8,1],[52.0,0],[53.8,2],[54.5,0],[55.5,2],[56.0,0],[56.5,2],[59.0,0],[61.2,2],[63.0,0],[65.2,2],[66.2,0],[68.5,2],[70.0,0],[71.6,2],[72.2,0],[73.2,2],[73.8,0],[74.5,2],[75.2,0],[75.8,0],[76.7,1],[78.0,0],[79.7,2],[82.5,0],[85.5,2],[85.8,0],[87.6,2],[90.5,0],[93.5,2],[94.0,0],[94.4,2],[95.0,0],[95.8,2],[96.5,0],[98.5,2],[100.0,0],[101.7,4],[102.0,2],[102.5,0],[104.2,2],[105.5,0],[106.7,2],[107.5,0],[108.5,2],[109.2,0],[110.8,2],[113.0,0],[115.5,2],[117.0,0],[119.0,2],[120.0,1],[121.8,0],[123.8,1],[124.2,0],[124.5,4],[125.0,0],[125.8,2],[126.5,0],[127.5,2],[128.0,0],[128.7,8],[129.2,0],[129.8,1],[130.2,0],[131.0,2],[132.0,0],[133.0,2],[133.5,0],[134.5,2],[136.0,0],[138.5,2],[141.5,0],[144.2,2],[145.0,1],[148.0,0],[150.8,1],[151.5,0],[152.0,2],[152.5,0],[153.0,2],[153.5,0],[154.5,3],[154.7,1]];
const cov738=[[1.8,0],[2.8,2],[3.5,0],[4.5,2],[4.8,1],[5.2,3],[5.5,1],[8.0,0],[10.8,1],[11.2,2],[11.8,3],[12.0,1],[14.2,0],[16.3,2],[16.5,0],[17.7,4],[18.0,2],[20.5,1],[23.5,0],[27.0,2],[27.5,0],[28.5,2],[29.0,0],[31.8,0],[35.0,2],[35.5,2],[37.5,0],[39.5,2],[39.8,0],[40.5,0],[42.0,4],[42.5,0],[43.8,2],[44.8,0],[46.2,2],[47.8,0],[49.2,2],[50.5,0],[52.0,2],[52.5,0],[53.0,2],[54.0,0],[56.2,2],[59.5,0],[63.0,3],[63.2,2],[66.0,0],[68.8,2],[69.0,0],[70.3,2],[73.0,0],[76.0,2],[76.2,0],[77.5,2],[80.0,0],[80.8,2],[83.0,0],[85.5,2],[86.5,0],[87.2,2],[87.8,0],[88.8,1],[91.0,0],[93.0,2],[94.0,0],[94.5,2],[95.0,0],[95.5,2],[96.0,0],[99.0,2],[101.5,0],[103.2,2],[104.5,0],[106.0,2],[106.5,0],[107.0,2],[107.5,0],[109.0,1],[110.0,0],[110.8,1],[112.5,0],[114.5,2],[115.0,0],[115.5,2],[116.0,0],[117.0,2],[117.5,0],[118.5,2],[119.0,0],[119.8,2],[120.5,0],[121.2,2],[122.0,0],[123.5,1],[124.0,0],[125.5,2],[126.0,0],[126.5,2],[127.0,0],[128.8,7],[129.2,1],[130.0,0],[131.0,2],[132.5,0],[133.5,2],[134.0,0],[134.4,4],[135.0,1],[137.0,0],[138.5,2],[139.5,0],[141.2,2],[141.5,1],[141.8,0],[142.5,2],[143.0,0],[143.8,1],[146.0,0],[147.8,2],[150.0,0],[151.0,2],[153.0,0],[154.5,3],[154.6,11],[154.7,2]];
const cov737=[[1.2,0],[1.5,2],[2.8,0],[3.5,2],[4.8,0],[6.2,1],[6.8,0],[8.2,1],[9.5,0],[10.5,2],[11.0,0],[11.8,4],[12.2,0],[12.5,2],[13.0,0],[13.7,4],[14.5,3],[15.5,0],[17.0,1],[17.5,3],[18.0,0],[19.2,3],[19.8,0],[20.5,2],[21.0,0],[21.8,3],[22.2,0],[23.0,2],[23.5,0],[24.5,2],[25.5,0],[26.0,2],[26.8,0],[27.7,2],[28.5,0],[29.2,1],[30.5,0],[31.2,1],[33.5,0],[35.8,2],[36.5,0],[37.5,2],[38.5,0],[39.0,3],[39.8,0],[40.5,2],[41.0,0],[42.0,3],[44.2,0],[46.0,2],[46.5,0],[47.0,2],[47.5,0],[48.5,2],[49.2,0],[50.0,2],[50.5,0],[51.0,3],[51.5,0],[52.5,2],[54.5,0],[56.5,2],[58.5,0],[60.8,2],[62.5,0],[64.0,1],[68.0,0],[72.0,1],[73.0,4],[74.0,1],[75.8,3],[79.0,0],[82.5,2],[85.0,0],[88.2,2],[89.0,0],[90.5,2],[91.5,0],[92.0,2],[92.5,0],[93.5,2],[95.0,0],[96.8,1],[98.5,0],[100.5,2],[101.5,0],[102.0,2],[103.0,0],[104.0,2],[107.5,0],[110.8,2],[112.0,0],[113.2,2],[115.2,0],[118.5,2],[119.5,0],[121.0,2],[122.5,0],[124.0,2],[125.0,0],[125.5,2],[126.5,0],[128.5,3],[128.8,7],[129.2,2],[130.0,0],[130.5,2],[131.0,0],[131.5,2],[132.5,0],[134.0,2],[135.5,0],[137.2,2],[139.5,0],[141.5,2],[142.5,0],[143.5,2],[144.0,0],[145.0,2],[145.5,0],[147.0,2],[148.0,0],[149.0,2],[150.0,0],[151.5,2],[152.0,0],[153.0,2],[153.8,0],[154.5,5],[154.7,1]];

const coverage=[cov760,cov759,cov758,cov757,cov756,cov755,cov754,cov753,cov752,cov751,cov750,cov749,cov748,cov747,cov746,cov745,cov744,cov743,cov742,cov741,cov740,cov739,cov738,cov737];

const NS="http://www.w3.org/2000/svg";
const PLOT_L=272,PLOT_R=1431,TRACK0_TOP=114,TRACK_PITCH=154,TRACK_H=139;
function xScale(kb){return PLOT_L+(kb-regionKb[0])/(regionKb[1]-regionKb[0])*(PLOT_R-PLOT_L);}
function mbToX(mb){return PLOT_L+(mb-regionMb[0])/(regionMb[1]-regionMb[0])*(PLOT_R-PLOT_L);}
function mk(tag,attrs,parent){const e=document.createElementNS(NS,tag);for(const k in attrs)e.setAttribute(k,attrs[k]);parent.appendChild(e);return e;}

const tracksG=document.getElementById('tracks');
sampleNames.forEach(function(name,i){
  const top=TRACK0_TOP+i*TRACK_PITCH,zero=top+TRACK_H,ymax=yMaxLabels[i],nf=normFactor[i];
  function yScale(v){return zero-Math.min(v,ymax)/ymax*TRACK_H;}
  const g=mk('g',{},tracksG);
  
  
  const lab=mk('text',{x:74,y:top+TRACK_H/2+8,'font-size':24,fill:'#000'},g);
  lab.textContent=name;
  
  
  const ax=mk('path',{d:'M258,'+top+'H271V'+zero+'H258',fill:'none',stroke:'#888','stroke-width':2},g);
  
  
  const tMax=mk('text',{x:251,y:top+4,'font-size':12,'text-anchor':'end',fill:'#222'},g);
  tMax.textContent=String(ymax);
  
  
  const t0=mk('text',{x:251,y:zero+4,'font-size':12,'text-anchor':'end',fill:'#222'},g);
  t0.textContent='0';
  
  
  const pts=coverage[i].slice().sort(function(a,b){return a[0]-b[0];});
  let d='M'+xScale(pts[0][0]).toFixed(1)+','+zero;
  pts.forEach(function(p){d+='L'+xScale(p[0]).toFixed(1)+','+yScale(p[1]*nf).toFixed(1);});
  d+='L'+xScale(pts[pts.length-1][0]).toFixed(1)+','+zero+'Z';
  const area=mk('path',{d:d,fill:'#0000ff',stroke:'#0000ff','stroke-width':0.6,'stroke-linejoin':'miter'},g);
  
  
});

const geneG=document.getElementById('gene');
const gl=mk('text',{x:976,y:3902,'font-size':33,'text-anchor':'middle',fill:'#000'},geneG);
gl.textContent=geneName;


const gline=mk('line',{x1:xScale(regionKb[0]),x2:xScale(regionKb[1]),y1:3956,y2:3956,stroke:'#333','stroke-width':1.5},geneG);


for(let kb=4.0;kb<154;kb+=5.0){
  const cx=xScale(kb);
  const ch=mk('path',{d:'M'+(cx+3)+',3946L'+cx+',3956L'+(cx+3)+',3966',fill:'none',stroke:'#444','stroke-width':1},geneG);
  
  
}
exons.forEach(function(e){
  const x=xScale(e[0]);let el;
  if(e[1]==='B'){
    const w=e[0]<2?10:3;
    el=mk('rect',{x:x,y:3932,width:w,height:47,fill:'#000'},geneG);
  }else if(e[1]==='T'){
    mk('line',{x1:x,x2:x,y1:3910,y2:4003,stroke:'#000','stroke-width':1},geneG);
    el=mk('rect',{x:x-1.5,y:3932,width:3,height:47,fill:'#000'},geneG);
  }else if(e[1]==='S'){
    el=mk('line',{x1:x,x2:x,y1:3932,y2:3979,stroke:'#000','stroke-width':1},geneG);
  }else{
    el=mk('line',{x1:x,x2:x,y1:3910,y2:4003,stroke:'#000','stroke-width':1},geneG);
  }
  
  
});

const idG=document.getElementById('ideo');
const chrL=mk('text',{x:88,y:4105,'font-size':46,fill:'#000'},idG);
chrL.textContent='chr2';


const band=mk('rect',{x:PLOT_L,y:4060,width:PLOT_R-PLOT_L,height:57,fill:'#c8c8c8'},idG);


mk('line',{x1:PLOT_L,x2:PLOT_R,y1:4060,y2:4060,stroke:'#888','stroke-width':2},idG);
mk('line',{x1:PLOT_L,x2:PLOT_R,y1:4117,y2:4117,stroke:'#888','stroke-width':2},idG);
axisTicksMb.forEach(function(mb){
  const x=mbToX(mb);
  const major=Math.abs(mb*10-Math.round(mb*10))<1e-6;
  const t=mk('line',{x1:x,x2:x,y1:4117,y2:major?4190:4147,stroke:'#444','stroke-width':1},idG);
  
  
});
axisLabelsMb.forEach(function(lbl){
  const mb=parseFloat(lbl);
  const t=mk('text',{x:mbToX(mb),y:4207,'font-size':22,'text-anchor':'middle',fill:'#000'},idG);
  t.textContent=lbl;
  
  
});
</script>
</body></html>
